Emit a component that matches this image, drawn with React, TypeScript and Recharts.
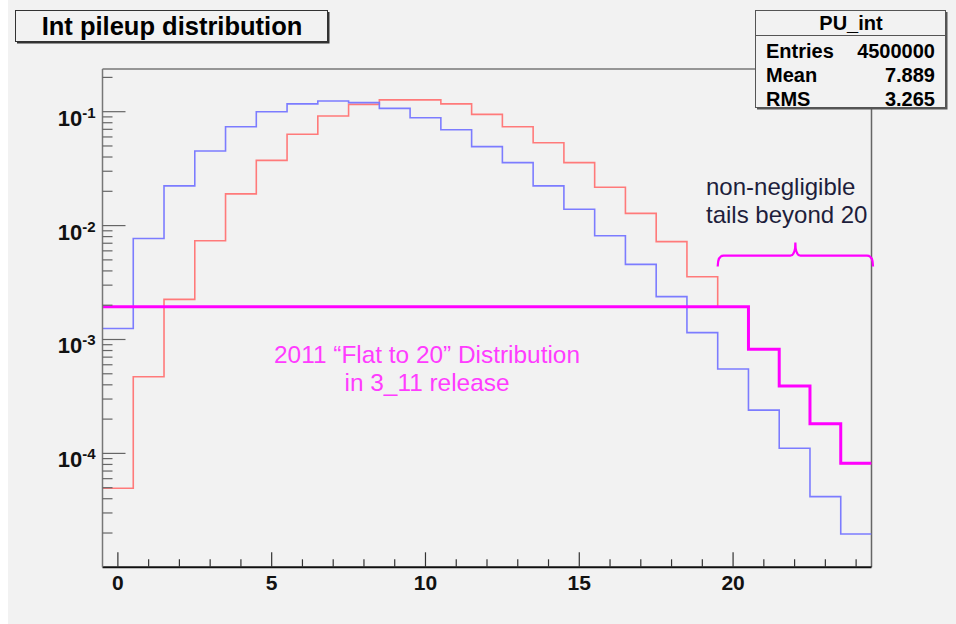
import React from 'react';
import { LineChart, Line, XAxis, YAxis, ReferenceLine } from 'recharts';

// ---- data (bins centred on integers 0..24) ----
const BINS = [0, 1, 2, 3, 4, 5, 6, 7, 8, 9, 10, 11, 12, 13, 14, 15, 16, 17, 18, 19, 20, 21, 22, 23, 24];
const BLUE = [1.25e-3, 7.7e-3, 0.0223, 0.0452, 0.0738, 0.1, 0.117, 0.124, 0.12, 0.107, 0.0885, 0.0695, 0.0493,
  0.0357, 0.0223, 0.0139, 8.15e-3, 4.57e-3, 2.38e-3, 1.15e-3, 5.5e-4, 2.4e-4, 1.11e-4, 4.17e-5, 1.96e-5];
const RED = [4.94e-5, 4.71e-4, 2.25e-3, 7.36e-3, 0.019, 0.0374, 0.0634, 0.0917, 0.116, 0.127, 0.127, 0.117, 0.0948,
  0.0738, 0.0534, 0.0357, 0.0217, 0.0128, 7.23e-3, 3.56e-3, 1.94e-3, 8.2e-4, 3.91e-4, 1.82e-4, 8.18e-5];
const FLAT = [1.94e-3, 1.94e-3, 1.94e-3, 1.94e-3, 1.94e-3, 1.94e-3, 1.94e-3, 1.94e-3, 1.94e-3, 1.94e-3, 1.94e-3,
  1.94e-3, 1.94e-3, 1.94e-3, 1.94e-3, 1.94e-3, 1.94e-3, 1.94e-3, 1.94e-3, 1.94e-3, 1.94e-3, 8.2e-4, 3.91e-4, 1.82e-4, 8.18e-5];

const X_LABELED = [0, 5, 10, 15, 20];
const Y_DECADES = [-5, -4, -3, -2, -1];
const X_DOMAIN: [number, number] = [-0.5, 24.5];
const Y_DOMAIN: [number, number] = [1e-5, 0.237];

const TITLE = 'Int pileup distribution';
const STATS_NAME = 'PU_int';
const STATS = [
  ['Entries', '4500000'],
  ['Mean', '7.889'],
  ['RMS', '3.265'],
];
const NOTE_FLAT = ['2011 \u201CFlat to 20\u201D Distribution', 'in 3_11 release'];
const NOTE_TAILS = ['non-negligible', 'tails beyond 20'];
const BRACE_X: [number, number] = [19.5, 24.55];
const BRACE_Y = 5.45e-3;

// ---- table built from the arrays (histogram edges, stepAfter) ----
const last = BINS.length - 1;
const rows = BINS.map((b, i) => ({ x: b - 0.5, blue: BLUE[i], red: RED[i], flat: FLAT[i] }));
rows.push({ x: BINS[last] + 0.5, blue: BLUE[last], red: RED[last], flat: FLAT[last] });

const yTicks: number[] = [];
Y_DECADES.forEach((d) => {
  for (let m = 1; m <= 9; m++) {
    const v = m * Math.pow(10, d);
    if (v > Y_DOMAIN[0] * 1.001 && v < Y_DOMAIN[1]) yTicks.push(v);
  }
});

const FONT = '"Liberation Sans", Arial, sans-serif';

const YTick = (props: any) => {
  const { x, y, payload } = props;
  const v = payload.value as number;
  const lg = Math.log10(v);
  const major = Math.abs(lg - Math.round(lg)) < 1e-6;
  return (
    <g>
      <line x1={x} x2={x + (major ? 23 : 10)} y1={y} y2={y} stroke="#666" strokeWidth={1.2} />
      {major && (
        <text x={x - 7} y={y + 14} textAnchor="end" fontFamily={FONT} fontWeight="bold" fill="#111">
          <tspan fontSize={22}>10</tspan>
          <tspan fontSize={15} dy={-8}>{String(Math.round(lg))}</tspan>
        </text>
      )}
    </g>
  );
};

const XTick = (props: any) => {
  const { x, y, payload } = props;
  const major = X_LABELED.includes(payload.value);
  return (
    <g>
      <line x1={x} x2={x} y1={y} y2={y - (major ? 15 : 8)} stroke="#333" strokeWidth={1.2} />
      {major && (
        <text x={x} y={y + 23} textAnchor="middle" fontFamily={FONT} fontWeight="bold" fontSize={21} fill="#111">
          {payload.value}
        </text>
      )}
    </g>
  );
};

const Brace = (p: any) => {
  const { x1, y1, x2 } = p;
  const mid = (x1 + x2) / 2;
  const d = `M${x1},${y1 + 11} Q${x1},${y1} ${x1 + 6},${y1} L${mid - 5},${y1} Q${mid},${y1} ${mid},${y1 - 13} Q${mid},${y1} ${mid + 5},${y1} L${x2 - 6},${y1} Q${x2},${y1} ${x2},${y1 + 11}`;
  return <path d={d} fill="none" stroke="#ff00ff" strokeWidth={2.2} />;
};

export default function App() {
  return (
    <div style={{ position: 'absolute', left: 0, top: 0, width: 956, height: 624, background: '#fff' }}>
      <div style={{ position: 'absolute', left: 8, top: 0, width: 948, height: 624, background: '#f2f2f2' }} />
      <div style={{ position: 'absolute', left: 0, top: 0 }}>
        <LineChart
          width={956}
          height={624}
          data={rows}
          margin={{ top: 69, right: 84.5, bottom: 16.7, left: 42.5 }}
        >
          <XAxis
            dataKey="x"
            type="number"
            domain={X_DOMAIN}
            allowDataOverflow
            ticks={BINS}
            interval={0}
            height={40}
            tickSize={0}
            tickMargin={0}
            tickLine={false}
            axisLine={{ stroke: '#111', strokeWidth: 2 }}
            tick={<XTick />}
          />
          <YAxis
            type="number"
            scale="log"
            domain={Y_DOMAIN}
            allowDataOverflow
            ticks={yTicks}
            interval={0}
            width={60}
            tickSize={0}
            tickMargin={0}
            tickLine={false}
            axisLine={{ stroke: '#777', strokeWidth: 1.5 }}
            tick={<YTick />}
          />
          <ReferenceLine y={Y_DOMAIN[1]} stroke="#777" strokeWidth={1.5} />
          <ReferenceLine x={X_DOMAIN[1]} stroke="#666" strokeWidth={1.5} />
          <Line dataKey="red" type="stepAfter" stroke="#ff7a7a" strokeWidth={1.6} dot={false} isAnimationActive={false} />
          <Line dataKey="blue" type="stepAfter" stroke="#7c7cff" strokeWidth={1.6} dot={false} isAnimationActive={false} />
          <Line dataKey="flat" type="stepAfter" stroke="#ff00ff" strokeWidth={3} dot={false} isAnimationActive={false} />
          <ReferenceLine
            segment={[{ x: BRACE_X[0], y: BRACE_Y }, { x: BRACE_X[1], y: BRACE_Y }]}
            ifOverflow="visible"
            shape={(p: any) => <Brace {...p} />}
          />
        </LineChart>
      </div>
      <svg width={956} height={624} style={{ position: 'absolute', left: 0, top: 0, pointerEvents: 'none' }}>
        {/* title box */}
        <rect x={15.5} y={10.5} width={312} height={31} fill="#f2f2f2" stroke="#333" strokeWidth={1} />
        <path d="M328.5,12 L328.5,42.5 L17,42.5" fill="none" stroke="#333" strokeWidth={2} />
        <text x={172} y={34.5} textAnchor="middle" fontFamily={FONT} fontWeight="bold" fontSize={25.5} fill="#000">
          {TITLE}
        </text>
        {/* stats box */}
        <rect x={755.5} y={10.5} width={190} height={97} fill="#f2f2f2" stroke="#555" strokeWidth={1} />
        <path d="M946.5,12 L946.5,108.5 L757,108.5" fill="none" stroke="#555" strokeWidth={2} />
        <line x1={755.5} x2={945.5} y1={35.5} y2={35.5} stroke="#555" strokeWidth={1} />
        <text x={851} y={29.5} textAnchor="middle" fontFamily={FONT} fontWeight="bold" fontSize={20} fill="#000">
          {STATS_NAME}
        </text>
        {STATS.map((s, i) => (
          <g key={s[0]}>
            <text x={766} y={57.5 + i * 24} fontFamily={FONT} fontWeight="bold" fontSize={20} fill="#000">
              {s[0]}
            </text>
            <text x={935} y={57.5 + i * 24} textAnchor="end" fontFamily={FONT} fontWeight="bold" fontSize={20} fill="#000">
              {s[1]}
            </text>
          </g>
        ))}
        {/* annotations */}
        {NOTE_FLAT.map((t, i) => (
          <text key={t} x={427} y={362.5 + i * 28} textAnchor="middle" fontFamily={FONT} fontSize={24.4} fill="#ff3cff">
            {t}
          </text>
        ))}
        {NOTE_TAILS.map((t, i) => (
          <text key={t} x={706} y={194.5 + i * 28} fontFamily={FONT} fontSize={24} fill="#1e1e3c">
            {t}
          </text>
        ))}
      </svg>
    </div>
  );
}
